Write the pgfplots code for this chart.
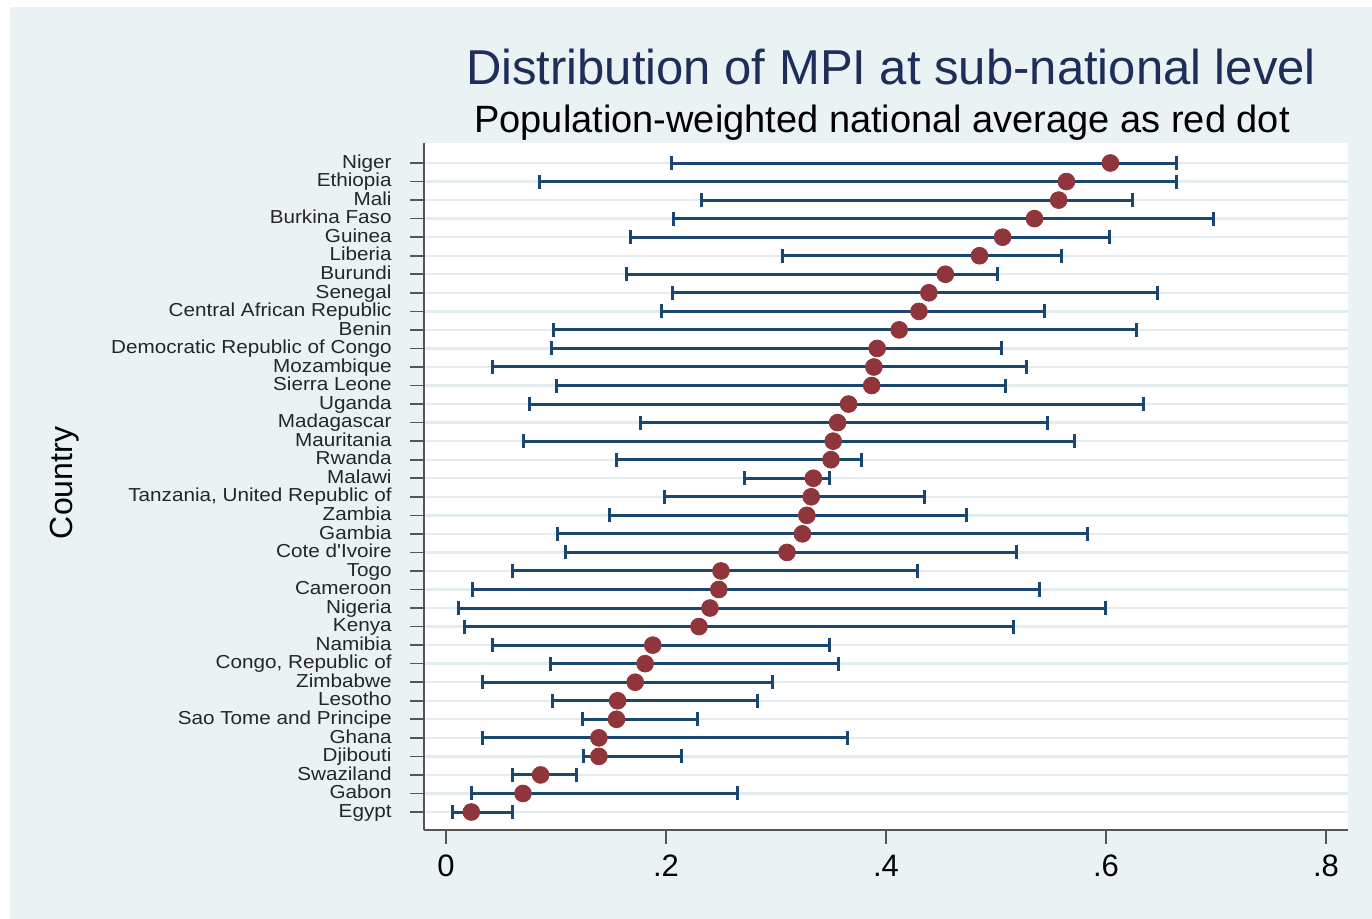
\documentclass[border=0pt]{standalone}
\usepackage{pgfplots}
\usepackage{pgfplotstable}
\pgfplotsset{compat=1.18}
\usepackage{fontspec}
\setmainfont{Liberation Sans}
\newfontfamily\lblfont[FakeStretch=1.1]{Liberation Sans}
\definecolor{bgc}{HTML}{EAF2F3}
\definecolor{spike}{HTML}{1A476F}
\definecolor{dotc}{HTML}{90353B}
\definecolor{gridc}{HTML}{E2ECEF}
\definecolor{titc}{HTML}{1E2D5A}
\definecolor{axc}{HTML}{555555}

\pgfplotstableread{
idx lo mid hi
36 0.205 0.604 0.664
35 0.085 0.564 0.664
34 0.232 0.557 0.624
33 0.207 0.535 0.698
32 0.168 0.506 0.603
31 0.306 0.485 0.560
30 0.164 0.454 0.501
29 0.206 0.439 0.647
28 0.196 0.430 0.544
27 0.098 0.412 0.628
26 0.096 0.392 0.505
25 0.042 0.389 0.528
24 0.100 0.387 0.509
23 0.076 0.366 0.634
22 0.177 0.356 0.547
21 0.070 0.352 0.571
20 0.155 0.350 0.378
19 0.271 0.334 0.349
18 0.199 0.332 0.435
17 0.149 0.328 0.473
16 0.101 0.324 0.583
15 0.109 0.310 0.519
14 0.060 0.250 0.429
13 0.024 0.248 0.540
12 0.011 0.240 0.600
11 0.017 0.230 0.516
10 0.042 0.188 0.349
9 0.095 0.181 0.357
8 0.033 0.172 0.297
7 0.097 0.156 0.283
6 0.124 0.155 0.229
5 0.033 0.139 0.365
4 0.125 0.139 0.214
3 0.060 0.086 0.119
2 0.023 0.070 0.265
1 0.006 0.023 0.060
}\mpidata

\begin{document}
\begin{tikzpicture}
\fill[white] (0,0) rectangle (686bp,459.5bp);
\fill[bgc] (5bp,0) rectangle (686bp,456bp);
\begin{axis}[
  at={(212bp,44.5bp)}, anchor=south west,
  scale only axis, width=462bp, height=343.5bp,
  xmin=-0.02, xmax=0.82, ymin=0.03, ymax=37.08,
  axis x line*=bottom, axis y line*=left,
  axis background/.style={fill=white},
  axis line style={draw=axc, line width=0.8bp},
  every tick/.style={draw=axc, line width=0.8bp},
  tick align=outside, major tick length=7bp,
  xtick={0,0.2,0.4,0.6,0.8},
  xticklabels={0,.2,.4,.6,.8},
  ytick={1,...,36},
  yticklabels={Egypt,Gabon,Swaziland,Djibouti,Ghana,Sao Tome and Principe,Lesotho,Zimbabwe,{Congo, Republic of},Namibia,Kenya,Nigeria,Cameroon,Togo,Cote d'Ivoire,Gambia,Zambia,{Tanzania, United Republic of},Malawi,Rwanda,Mauritania,Madagascar,Uganda,Sierra Leone,Mozambique,Democratic Republic of Congo,Benin,Central African Republic,Senegal,Burundi,Liberia,Guinea,Burkina Faso,Mali,Ethiopia,Niger},
  yticklabel style={font=\lblfont\fontsize{9.4bp}{9.5bp}\selectfont, text=black!85, inner sep=0pt, text height=6.8bp, text depth=1.6bp, xshift=-9bp},
  xticklabel style={font=\fontsize{15.5bp}{16bp}\selectfont, text=black, yshift=-2bp},
  /pgf/number format/assume math mode=true,
  ymajorgrids,
  grid style={draw=gridc, line width=1.2bp},
  clip=false,
]
\addplot[only marks, mark=none,
  error bars/.cd, x dir=both, x explicit,
  error mark=|,
  error bar style={draw=spike, line width=1.5bp},
  error mark options={draw=spike, line width=1.5bp, mark size=3.5bp}]
  table[x=mid, y=idx, x error plus expr=\thisrow{hi}-\thisrow{mid}, x error minus expr=\thisrow{mid}-\thisrow{lo}] {\mpidata};
\addplot[only marks, mark=*, mark size=4.2bp, mark options={fill=dotc, draw=dotc}]
  table[x=mid, y=idx] {\mpidata};
\end{axis}
\node[text=titc, font=\fontsize{24.5bp}{26bp}\selectfont] at (445.5bp,426bp) {Distribution of MPI at sub-national level};
\node[text=black, font=\fontsize{19bp}{20bp}\selectfont] at (441bp,398bp) {Population-weighted national average as red dot};
\node[rotate=90, text=black, font=\fontsize{16bp}{17bp}\selectfont] at (32.5bp,218bp) {Country};
\end{tikzpicture}
\end{document}
